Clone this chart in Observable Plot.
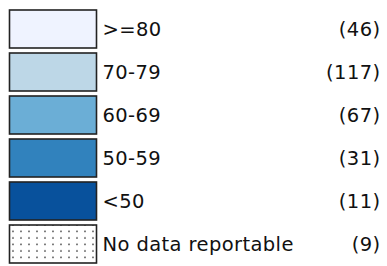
<!DOCTYPE html>
<html>
<head>
<meta charset="utf-8">
<script src="https://cdn.jsdelivr.net/npm/d3@7"></script>
<script src="https://cdn.jsdelivr.net/npm/@observablehq/plot@0.6"></script>
<style>
html, body { margin: 0; padding: 0; background: #fff; }
</style>
</head>
<body>
<div id="chart"></div>
<script>
const categories = [">=80", "70-79", "60-69", "50-59", "<50", "No data reportable"];
const counts = [46, 117, 67, 31, 11, 9];
const colors = ["#eff3ff", "#bdd7e7", "#6baed6", "#3182bd", "#08519c", "url(#nodata-dots)"];

const rows = categories.map((label, i) => ({label, count: counts[i], color: colors[i]}));

const chart = Plot.plot({
  width: 387,
  height: 266,
  margin: 0,
  style: {background: "#fff", fontFamily: "DejaVu Sans, sans-serif"},
  x: {type: "identity", axis: null},
  y: {type: "band", domain: categories, range: [8, 264], paddingInner: 0.12, paddingOuter: 0, axis: null},
  color: {type: "identity"},
  marks: [
    Plot.barX(rows, {x1: 9.5, x2: 96.5, y: "label", fill: "color", stroke: "#222", strokeWidth: 1.6}),
    Plot.text(rows, {x: 102, y: "label", text: "label", textAnchor: "start", fontSize: 19.5, fill: "#111"}),
    Plot.text(rows, {x: 380, y: "label", text: d => `(${d.count})`, textAnchor: "end", fontSize: 19.5, fill: "#111"})
  ]
});

d3.select(chart).insert("defs", ":first-child").html(
  `<pattern id="nodata-dots" width="8" height="6.5" patternUnits="userSpaceOnUse" x="1" y="1">
     <rect width="8" height="6.5" fill="#fff"></rect>
     <circle cx="4" cy="3" r="0.8" fill="#333"></circle>
   </pattern>`
);
d3.select(chart).selectAll("text").attr("letter-spacing", "0.4px");

document.getElementById("chart").appendChild(chart);
</script>
</body>
</html>
